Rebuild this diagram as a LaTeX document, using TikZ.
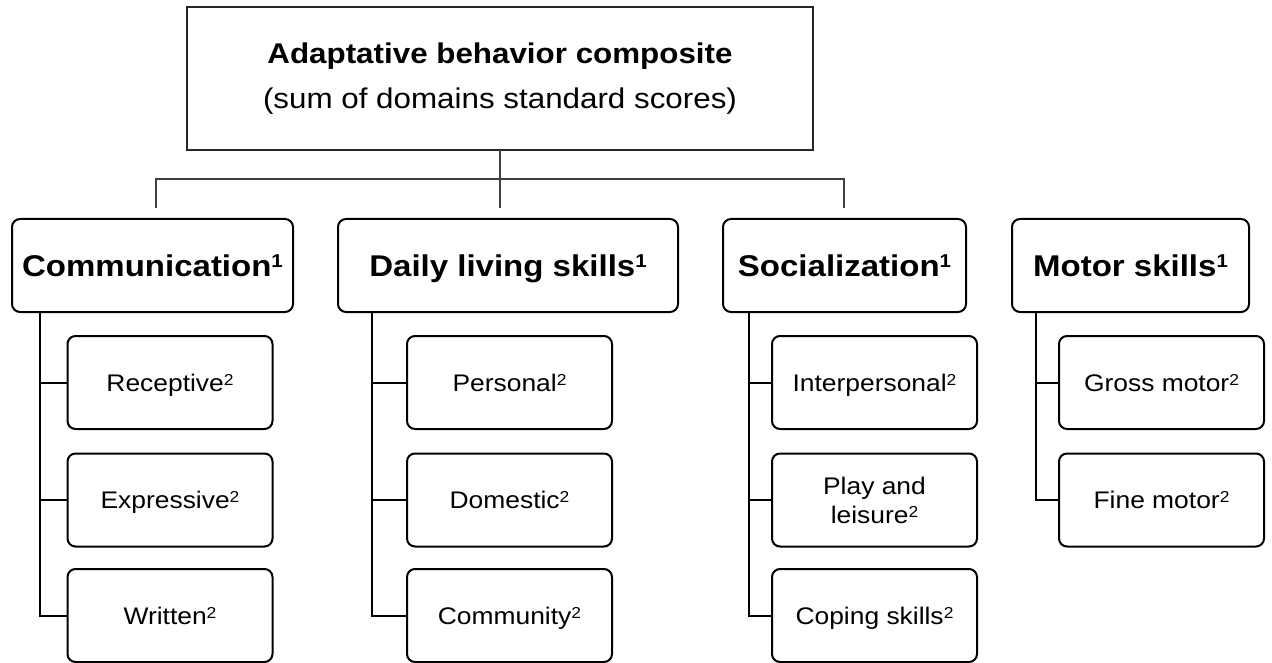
\documentclass[tikz,border=0pt]{standalone}
\usepackage{graphicx}
\usepackage{fontspec}
\setmainfont[FakeStretch=1.1]{Liberation Sans}
% footnote-style index digits
\newcommand\domsup[1]{\raisebox{0.3em}{\scalebox{0.62}{#1}}}
\newcommand\subsup[1]{\raisebox{0.25em}{\scalebox{0.66}{#1}}}
\begin{document}
\begin{tikzpicture}[x=1pt,y=-1pt,
  every node/.style={inner sep=0pt, outer sep=0pt},
  topbox/.style={draw=black!85, line width=2pt, align=center,
    minimum width=626pt, minimum height=143pt,
    font=\fontsize{28.5}{45}\selectfont},
  dombox/.style={draw, line width=2pt, rounded corners=8pt,
    minimum height=93pt, text height=26pt, text depth=4.5pt,
    font=\fontsize{30}{36}\selectfont\bfseries},
  subbase/.style={draw, line width=2pt, rounded corners=8pt,
    minimum width=205pt, minimum height=93pt, align=center,
    font=\fontsize{24}{29}\selectfont},
  subbox/.style={subbase, text height=20pt, text depth=2.8pt},
  bus/.style={draw=black!75, line width=2pt},
  trunk/.style={draw, line width=2pt}]
  \useasboundingbox (0,0) rectangle (1272,663);

  % composite score
  \node[topbox] (top) at (500,78.5)
    {\textbf{Adaptative behavior composite}\\(sum of domains standard scores)};

  % domains
  \node[dombox, minimum width=281pt] (com) at (152.5,265.5) {Communication\domsup{1}};
  \node[dombox, minimum width=340pt] (dls) at (508,265.5) {Daily living skills\domsup{1}};
  \node[dombox, minimum width=243pt] (soc) at (844.5,265.5) {Socialization\domsup{1}};
  \node[dombox, minimum width=237pt] (mot) at (1130.5,265.5) {Motor skills\domsup{1}};

  % subdomains
  \node[subbox] (rec) at (170,382.5) {Receptive\subsup{2}};
  \node[subbox] (exp) at (170,500) {Expressive\subsup{2}};
  \node[subbox] (wri) at (170,615.5) {Written\subsup{2}};

  \node[subbox] (per) at (509.5,382.5) {Personal\subsup{2}};
  \node[subbox] (dom) at (509.5,500) {Domestic\subsup{2}};
  \node[subbox] (cmt) at (509.5,615.5) {Community\subsup{2}};

  \node[subbox] (int) at (874.5,382.5) {Interpersonal\subsup{2}};
  \node[subbase] (ply) at (874.5,500) {Play and\\leisure\subsup{2}};
  \node[subbox] (cop) at (874.5,615.5) {Coping skills\subsup{2}};

  \node[subbox] (grm) at (1161.5,382.5) {Gross motor\subsup{2}};
  \node[subbox] (fim) at (1161.5,500) {Fine motor\subsup{2}};

  % bus from the composite to the domains
  \coordinate (busL) at (156,179.5);
  \coordinate (busR) at (844,179.5);
  \coordinate (dropL) at (156,208);
  \coordinate (dropM) at (500,208);
  \coordinate (dropR) at (844,208);
  \draw[bus] (top.south) -- (dropM);
  \draw[bus] (dropL) -- (busL) -- (busR) -- (dropR);

  % trunks from each domain to its subdomains
  \coordinate (t1) at (40,313);
  \coordinate (t2) at (372,313);
  \coordinate (t3) at (749,313);
  \coordinate (t4) at (1036,313);

  \draw[trunk] (t1) |- (wri.west);
  \draw[trunk] (t1 |- rec.west) -- (rec.west);
  \draw[trunk] (t1 |- exp.west) -- (exp.west);

  \draw[trunk] (t2) |- (cmt.west);
  \draw[trunk] (t2 |- per.west) -- (per.west);
  \draw[trunk] (t2 |- dom.west) -- (dom.west);

  \draw[trunk] (t3) |- (cop.west);
  \draw[trunk] (t3 |- int.west) -- (int.west);
  \draw[trunk] (t3 |- ply.west) -- (ply.west);

  \draw[trunk] (t4) |- (fim.west);
  \draw[trunk] (t4 |- grm.west) -- (grm.west);
\end{tikzpicture}
\end{document}
